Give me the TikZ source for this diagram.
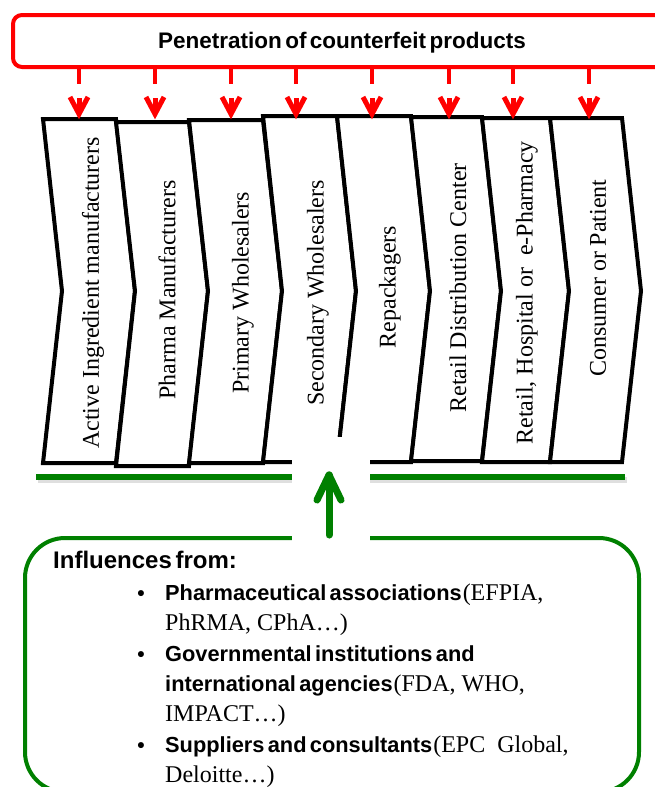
\documentclass[tikz,border=0pt]{standalone}
\usepackage{fontspec}
\setmainfont{Liberation Serif}
\newfontfamily\hsans[WordSpace=0.55]{Liberation Sans}
\definecolor{rred}{RGB}{255,0,0}
\definecolor{ggreen}{RGB}{0,128,0}
\tikzset{
  redbox/.style={draw=rred, line width=4pt, rounded corners=9pt, fill=white, inner sep=0pt},
  redline/.style={draw=rred, line width=4pt, miter limit=10},
  redhead/.style={draw=rred, line width=5pt, miter limit=10},
  chev/.style={draw=black, fill=white, line width=4pt, line join=miter},
  chevtext/.style={rotate=90, font=\fontsize{24}{26}\selectfont, inner sep=0pt},
  greenbox/.style={draw=ggreen, line width=4pt, rounded corners=40pt, inner sep=0pt},
  gline/.style={draw=ggreen, line width=6pt},
  garrow/.style={draw=ggreen, line width=7pt, line cap=round, line join=round},
  gshadow/.style={draw=black!25, opacity=0.5, line width=7pt, line cap=round, line join=round},
  btext/.style={anchor=base west, inner sep=0pt, font=\fontsize{24}{30}\selectfont},
}
\newcommand\chevshape[4]{%
  \draw[chev] (#1,#3) -- (#2,#3) -- (#2+19,291) -- (#2,#4) -- (#1,#4) -- (#1+19,291) -- cycle;}
\newcommand\bsans[1]{{\hsans\bfseries\fontsize{21.8}{30}\selectfont #1}}
\begin{document}
\begin{tikzpicture}[x=1pt,y=-1pt]
\useasboundingbox (0,0) rectangle (655,787);
\clip (0,0) rectangle (655,787);

% top red box
\node[redbox, minimum width=690pt, minimum height=52pt] (pen) at (358,41) {};
\node[inner sep=0pt, font=\hsans\bfseries\fontsize{22.5}{24}\selectfont] (title) at (342,43) {Penetration of counterfeit products};

% chevrons
\chevshape{43}{116}{119}{463}
\chevshape{116}{189}{122}{466}
\chevshape{189}{263}{120}{463}
\chevshape{263}{337}{116}{462}
\chevshape{337}{411}{116}{462}
\chevshape{411}{482}{117}{461}
\chevshape{482}{550}{118}{462}
\chevshape{550}{622}{118}{462}

\node[chevtext] (c1) at (93,293) {Active Ingredient manufacturers};
\node[chevtext] (c2) at (167,290) {Pharma Manufacturers};
\node[chevtext] (c3) at (243,293) {Primary Wholesalers};
\node[chevtext] (c4) at (318,293) {Secondary Wholesalers};
\node[chevtext] (c5) at (390,287) {Repackagers};
\node[chevtext] (c6) at (458,288) {Retail Distribution Center};
\node[chevtext] (c7) at (527,293) {Retail, Hospital or~~e-Pharmacy};
\node[chevtext] (c8) at (598,278) {Consumer or Patient};

% red arrows
\foreach \x [count=\i] in {79,155,231,296,372,449,513,589}{
  \coordinate (s\i) at (\x,84);
  \coordinate (t\i) at (\x,114);
  \draw[redline] (pen.south -| s\i) -- (s\i);
  \draw[redhead] ([xshift=-9pt,yshift=17pt]t\i) -- (t\i) -- ([xshift=9pt,yshift=17pt]t\i);
  \draw[redhead] ([yshift=16pt]t\i) -- (t\i);
}

% green line
\draw[line width=6pt, black!25, opacity=0.5] (38,480) -- (627,480);
\coordinate (gl) at (36,477);
\coordinate (gr) at (625,477);
\draw[gline] (gl) -- (gr);

% green box
\node[greenbox, minimum width=614pt, minimum height=254pt] (infl) at (332,665) {};

% white gap
\fill[white] (292,437) rectangle (370,545);

% green arrow
\coordinate (ga) at (329,535);
\coordinate (gt) at (329,475);
\begin{scope}[shift={(1.5,2.5)}]
\draw[gshadow] (ga) -- (gt);
\draw[gshadow] ([xshift=-12pt,yshift=-25pt]gt) -- (gt) -- ([xshift=12pt,yshift=-25pt]gt);
\end{scope}
\draw[garrow] (ga) -- (gt);
\draw[garrow] ([xshift=-12pt,yshift=-25pt]gt) -- (gt) -- ([xshift=12pt,yshift=-25pt]gt);

% text in green box
\node[anchor=base west, inner sep=0pt, font=\hsans\bfseries\fontsize{24}{26}\selectfont] (ih) at (53,568) {Influences from:};

\node[anchor=base, inner sep=0pt, font=\hsans\bfseries\fontsize{21}{24}\selectfont] (b1) at (141,600) {•};
\node[anchor=base, inner sep=0pt, font=\hsans\bfseries\fontsize{21}{24}\selectfont] (b2) at (141,661) {•};
\node[anchor=base, inner sep=0pt, font=\hsans\bfseries\fontsize{21}{24}\selectfont] (b3) at (141,752) {•};

\node[btext] (l1) at (165,600) {\bsans{Pharmaceutical associations}\kern1pt(EFPIA,};
\node[btext] (l2) at (165,630) {PhRMA, CPhA…)};
\node[btext] (l3) at (165,661) {\bsans{Governmental institutions and}};
\node[btext] (l4) at (165,691) {\bsans{international agencies}\kern1pt(FDA, WHO,};
\node[btext] (l5) at (165,721) {IMPACT…)};
\node[btext] (l6) at (165,752) {\bsans{Suppliers and consultants}\kern1pt(EPC~~Global,};
\node[btext] (l7) at (165,782) {Deloitte…)};
\end{tikzpicture}
\end{document}
